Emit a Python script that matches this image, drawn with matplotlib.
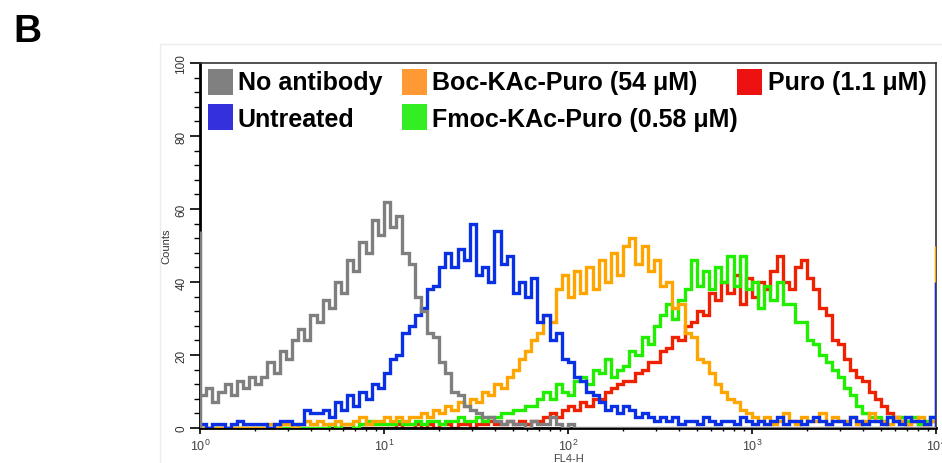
import numpy as np
import matplotlib.pyplot as plt
from matplotlib.patches import Rectangle
from matplotlib.ticker import MultipleLocator

plt.rcParams['font.family'] = ['Liberation Sans', 'DejaVu Sans']

# log channels: 30 per decade, 10^0 .. 10^4
per_decade = 30
edges = 10 ** (np.arange(4 * per_decade + 1) / per_decade)

no_antibody = [
    9, 11, 7, 10, 12, 9, 13, 11, 14, 12,
    14, 18, 15, 21, 19, 24, 27, 24, 31, 29,
    35, 33, 40, 37, 46, 43, 51, 48, 57, 53,
    62, 55, 58, 48, 45, 36, 32, 26, 25, 18,
    15, 10, 9, 6, 5, 4, 3, 3, 2, 1,
    2, 1, 1, 0, 2, 1, 1, 3, 1, 0,
    1, 0, 0, 0, 0, 0, 0, 0, 0, 0,
    0, 0, 0, 0, 0, 0, 0, 0, 0, 0,
    0, 0, 0, 0, 0, 0, 0, 0, 0, 0,
    0, 0, 0, 0, 0, 0, 0, 0, 0, 0,
    0, 0, 0, 0, 0, 0, 0, 0, 0, 0,
    0, 0, 0, 0, 0, 0, 0, 0, 0, 0,
]
untreated = [
    1, 0, 1, 1, 0, 1, 2, 1, 1, 1,
    1, 0, 1, 2, 2, 1, 1, 5, 4, 4,
    5, 3, 7, 5, 9, 6, 10, 8, 12, 11,
    15, 19, 20, 26, 28, 31, 33, 38, 39, 44,
    48, 44, 49, 46, 56, 42, 44, 40, 54, 45,
    47, 37, 40, 36, 41, 29, 31, 24, 26, 19,
    18, 14, 13, 10, 9, 7, 5, 6, 4, 6,
    5, 3, 4, 3, 2, 3, 2, 3, 1, 2,
    2, 1, 3, 2, 1, 2, 2, 1, 3, 2,
    1, 2, 1, 2, 3, 1, 2, 2, 1, 2,
    3, 2, 1, 2, 2, 1, 3, 2, 1, 2,
    2, 1, 3, 2, 1, 3, 2, 2, 1, 3,
]
boc_kac_puro = [
    0, 0, 0, 0, 0, 0, 0, 0, 0, 0,
    0, 1, 0, 1, 1, 0, 1, 2, 1, 2,
    1, 1, 2, 1, 1, 2, 3, 1, 2, 2,
    3, 2, 3, 2, 3, 3, 4, 3, 5, 4,
    6, 5, 7, 6, 8, 7, 10, 9, 12, 11,
    14, 16, 19, 21, 24, 26, 31, 29, 38, 42,
    36, 43, 37, 44, 38, 46, 40, 48, 42, 50,
    52, 45, 50, 43, 46, 39, 40, 33, 34, 26,
    25, 19, 18, 15, 12, 10, 8, 7, 5, 4,
    3, 2, 3, 1, 2, 4, 2, 1, 3, 2,
    2, 4, 1, 3, 2, 2, 3, 1, 2, 4,
    2, 2, 1, 3, 2, 1, 2, 3, 1, 2,
]
fmoc_kac_puro = [
    0, 0, 0, 0, 0, 0, 0, 0, 0, 0,
    0, 0, 0, 0, 0, 0, 0, 0, 0, 0,
    0, 1, 0, 1, 1, 0, 1, 2, 1, 1,
    1, 1, 2, 1, 1, 2, 1, 2, 2, 1,
    2, 2, 3, 2, 2, 3, 2, 3, 3, 4,
    4, 5, 5, 6, 6, 8, 10, 8, 12, 10,
    9, 13, 14, 12, 16, 15, 19, 14, 16, 17,
    21, 20, 25, 23, 28, 31, 34, 30, 35, 38,
    46, 39, 43, 38, 44, 40, 47, 39, 47, 38,
    40, 33, 39, 35, 40, 34, 34, 29, 29, 24,
    23, 20, 18, 16, 14, 11, 9, 6, 4, 3,
    3, 2, 3, 2, 3, 2, 3, 1, 2, 3,
]
puro = [
    0, 0, 0, 0, 0, 0, 0, 0, 0, 0,
    0, 0, 0, 0, 0, 0, 0, 0, 0, 0,
    0, 0, 0, 0, 0, 0, 0, 0, 0, 0,
    0, 0, 1, 0, 0, 1, 0, 1, 0, 1,
    1, 0, 1, 1, 0, 1, 1, 2, 1, 1,
    2, 1, 2, 1, 2, 2, 3, 4, 3, 5,
    6, 5, 7, 6, 8, 8, 10, 11, 12, 13,
    13, 15, 16, 18, 18, 21, 22, 25, 24, 28,
    29, 32, 31, 37, 35, 40, 37, 42, 34, 41,
    36, 40, 38, 43, 47, 40, 38, 44, 46, 41,
    38, 33, 31, 24, 23, 19, 16, 14, 13, 10,
    8, 6, 4, 3, 2, 1, 2, 1, 1, 2,
]

# off-scale events piled into the first / last channel
offscale_low = {'No antibody': 54}
offscale_high = {'Boc-KAc-Puro (54 μM)': 50, 'Untreated': 40}

labels = ['No antibody', 'Untreated', 'Boc-KAc-Puro (54 μM)',
          'Fmoc-KAc-Puro (0.58 μM)', 'Puro (1.1 μM)']
series = [no_antibody, untreated, boc_kac_puro, fmoc_kac_puro, puro]
line_colors = ['#7f7f7f', '#0a30e6', '#ffa500', '#22ee00', '#ee2200']
key_colors = ['#808080', '#3430dc', '#ff9933', '#33ee22', '#ee1111']
zorders = [6, 5, 4, 3, 2]

fig = plt.figure(figsize=(9.42, 4.64), dpi=100)
ax = fig.add_axes([200 / 942, 35 / 464, 736 / 942, 365 / 464])

for lab, vals, col, z in zip(labels, series, line_colors, zorders):
    ax.stairs(vals, edges, color=col, lw=2.4, zorder=z, baseline=None)
    if lab in offscale_low:
        ax.vlines(edges[0], 0, offscale_low[lab], color=col, lw=2.5, zorder=z)
    if lab in offscale_high:
        ax.vlines(edges[-1], 0, offscale_high[lab], color=col, lw=2.5, zorder=z)

ax.set_xscale('log')
ax.set_xlim(1, 1e4)
ax.set_ylim(0, 100)
ax.yaxis.set_major_locator(MultipleLocator(20))
ax.yaxis.set_minor_locator(MultipleLocator(4))

ax.tick_params(axis='y', which='major', length=7, width=1.2, labelsize=8.5,
               labelcolor='#333333', pad=2)
ax.tick_params(axis='y', which='minor', length=4.5, width=1)
ax.tick_params(axis='x', which='major', length=4, width=1.2, labelsize=9,
               labelcolor='#444444', pad=3)
ax.tick_params(axis='x', which='minor', length=2.5, width=1)
for t in ax.get_yticklabels():
    t.set_rotation(90)
    t.set_va('center')

ax.set_ylabel('Counts', fontsize=8, color='#333333', labelpad=3)
ax.set_xlabel('FL4-H', fontsize=8, color='#444444', labelpad=0)

for side in ['left', 'bottom']:
    ax.spines[side].set_linewidth(2)
    ax.spines[side].set_color('black')
for side in ['top', 'right']:
    ax.spines[side].set_linewidth(1.2)
    ax.spines[side].set_color('#333333')

# legend drawn by hand, three irregular columns
key_pos = [(0.0109, 0.911), (0.0109, 0.8164), (0.2745, 0.911),
           (0.2745, 0.8164), (0.7296, 0.911)]
text_pos = [(0.0516, 0.9274), (0.0516, 0.8274), (0.3152, 0.9274),
            (0.3152, 0.8274), (0.7717, 0.9274)]
for lab, col, (kx, ky), (tx, ty) in zip(labels, key_colors, key_pos, text_pos):
    ax.add_patch(Rectangle((kx, ky), 0.034, 0.0712, transform=ax.transAxes,
                           facecolor=col, edgecolor='none', zorder=10))
    ax.text(tx, ty, lab, transform=ax.transAxes, fontsize=18,
            fontweight='bold', va='baseline', ha='left', zorder=10)

# faint panel frame
fig.add_artist(Rectangle((160 / 942, -0.2), 1.0, 1.2 - 45 / 464,
                         transform=fig.transFigure, fill=False,
                         edgecolor='#ececec', lw=1))
fig.text(13 / 942, 1 - 42 / 464, 'B', fontsize=28, fontweight='bold',
         va='baseline', ha='left')

fig.savefig('out.png', dpi=100)
